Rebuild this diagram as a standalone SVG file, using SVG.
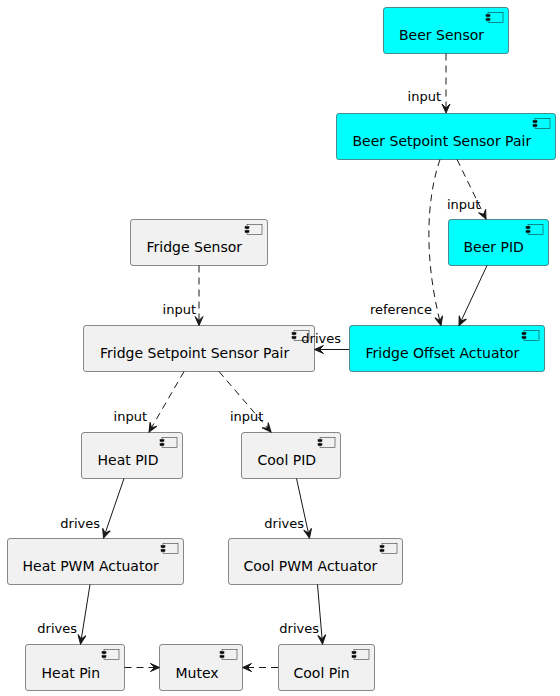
<svg xmlns="http://www.w3.org/2000/svg" width="560" height="696" viewBox="0 0 560 696">
<defs>
<style>
.box{fill:#F1F1F1;stroke:#181818;stroke-width:0.5}
.cy{fill:#00FFFF;stroke:#181818;stroke-width:0.5}
.ico{fill:none;stroke:#181818;stroke-width:0.5}
.icf{stroke:#181818;stroke-width:0.5}
.name{font-family:"DejaVu Sans",sans-serif;font-size:14px;fill:#000}
.lbl{font-family:"DejaVu Sans",sans-serif;font-size:13px;fill:#000}
.e{fill:none;stroke:#181818;stroke-width:1}
.d{stroke-dasharray:7,5}
</style>
<marker id="ah" viewBox="-10 -5 11 10" refX="0" refY="0" markerWidth="11" markerHeight="10" markerUnits="userSpaceOnUse" orient="auto">
<path d="M0,0 L-9,-4 L-5,0 L-9,4 Z" fill="#181818" stroke="#181818" stroke-width="1" stroke-dasharray="none"/>
</marker>
<g id="icon">
<rect x="0" y="0" width="15" height="10" class="ico"/>
<rect x="-2" y="2" width="4" height="2" class="icf"/>
<rect x="-2" y="6" width="4" height="2" class="icf"/>
</g>
</defs>
<rect width="560" height="696" fill="#FFFFFF"/>

<g id="beer-sensor">
<rect class="cy" x="383.5" y="7.5" width="125" height="46" rx="2.5"/>
<use href="#icon" x="488" y="12.5"/>
<text class="name" x="399" y="40">Beer Sensor</text>
</g>
<g id="beer-setpoint-sensor-pair">
<rect class="cy" x="336.5" y="113.5" width="219" height="46" rx="2.5"/>
<use href="#icon" x="535" y="118.5"/>
<text class="name" x="352.5" y="146">Beer Setpoint Sensor Pair</text>
</g>
<g id="beer-pid">
<rect class="cy" x="448.5" y="219.5" width="100" height="46" rx="2.5"/>
<use href="#icon" x="528" y="224.5"/>
<text class="name" x="463.5" y="252">Beer PID</text>
</g>
<g id="fridge-sensor">
<rect class="box" x="130.5" y="219.5" width="137" height="46" rx="2.5"/>
<use href="#icon" x="247" y="224.5"/>
<text class="name" x="146.5" y="252">Fridge Sensor</text>
</g>
<g id="fridge-setpoint-sensor-pair">
<rect class="box" x="83.5" y="325.5" width="231" height="46" rx="2.5"/>
<use href="#icon" x="294" y="330.5"/>
<text class="name" x="100" y="358">Fridge Setpoint Sensor Pair</text>
</g>
<g id="fridge-offset-actuator">
<rect class="cy" x="349.5" y="325.5" width="195" height="46" rx="2.5"/>
<use href="#icon" x="524" y="330.5"/>
<text class="name" x="365.5" y="358">Fridge Offset Actuator</text>
</g>
<g id="heat-pid">
<rect class="box" x="81.5" y="432.5" width="101" height="46" rx="2.5"/>
<use href="#icon" x="162" y="437.5"/>
<text class="name" x="97.5" y="465">Heat PID</text>
</g>
<g id="cool-pid">
<rect class="box" x="241.5" y="432.5" width="99" height="46" rx="2.5"/>
<use href="#icon" x="320" y="437.5"/>
<text class="name" x="257.5" y="465">Cool PID</text>
</g>
<g id="heat-pwm-actuator">
<rect class="box" x="7.5" y="538.5" width="176" height="46" rx="2.5"/>
<use href="#icon" x="163" y="543.5"/>
<text class="name" x="22.5" y="571">Heat PWM Actuator</text>
</g>
<g id="cool-pwm-actuator">
<rect class="box" x="228.5" y="538.5" width="174" height="46" rx="2.5"/>
<use href="#icon" x="382" y="543.5"/>
<text class="name" x="243.5" y="571">Cool PWM Actuator</text>
</g>
<g id="heat-pin">
<rect class="box" x="25.5" y="644.5" width="99" height="46" rx="2.5"/>
<use href="#icon" x="104" y="649.5"/>
<text class="name" x="41.5" y="678">Heat Pin</text>
</g>
<g id="mutex">
<rect class="box" x="159.5" y="644.5" width="83" height="46" rx="2.5"/>
<use href="#icon" x="222" y="649.5"/>
<text class="name" x="175.5" y="678">Mutex</text>
</g>
<g id="cool-pin">
<rect class="box" x="278.5" y="644.5" width="96" height="46" rx="2.5"/>
<use href="#icon" x="354" y="649.5"/>
<text class="name" x="293.5" y="678">Cool Pin</text>
</g>

<g id="connectors">
<path class="e d" d="M446,53.5 L446,113" marker-end="url(#ah)"/>
<text class="lbl" x="441" y="101" text-anchor="end">input</text>
<path class="e d" d="M457,159.5 L486,219" marker-end="url(#ah)"/>
<text class="lbl" x="447" y="209">input</text>
<path class="e d" d="M440,159.5 C426,200 424,260 441,325.5" marker-end="url(#ah)"/>
<text class="lbl" x="432" y="314" text-anchor="end">reference</text>
<path class="e" d="M487,265.5 L459,325.5" marker-end="url(#ah)"/>
<path class="e d" d="M199,265.5 L199,325.5" marker-end="url(#ah)"/>
<text class="lbl" x="196" y="314" text-anchor="end">input</text>
<path class="e" d="M349,349.5 L314.5,349.5" marker-end="url(#ah)"/>
<text class="lbl" x="341" y="343" text-anchor="end">drives</text>
<path class="e d" d="M184,371.5 L149,432" marker-end="url(#ah)"/>
<text class="lbl" x="147" y="421" text-anchor="end">input</text>
<path class="e d" d="M219,371.5 L271,432" marker-end="url(#ah)"/>
<text class="lbl" x="230" y="421">input</text>
<path class="e" d="M124,478.5 L103.5,538" marker-end="url(#ah)"/>
<text class="lbl" x="100" y="528" text-anchor="end">drives</text>
<path class="e" d="M296.5,478.5 L309.5,538" marker-end="url(#ah)"/>
<text class="lbl" x="304" y="528" text-anchor="end">drives</text>
<path class="e" d="M90,584.5 L80.5,644" marker-end="url(#ah)"/>
<text class="lbl" x="77" y="633" text-anchor="end">drives</text>
<path class="e" d="M317.5,584.5 L322.5,644" marker-end="url(#ah)"/>
<text class="lbl" x="319" y="633" text-anchor="end">drives</text>
<path class="e d" d="M124.5,667.5 L159.5,667.5" marker-end="url(#ah)"/>
<path class="e d" d="M278,667.5 L242.5,667.5" marker-end="url(#ah)"/>
</g>
</svg>
